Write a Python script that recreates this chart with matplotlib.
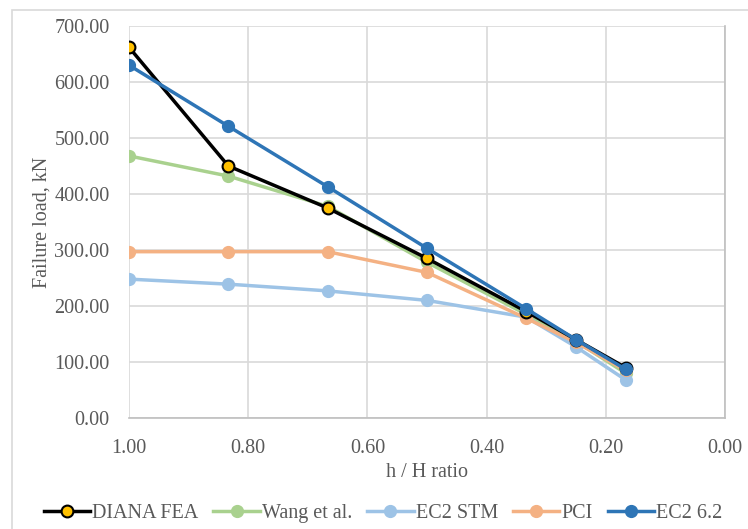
import matplotlib.pyplot as plt
from matplotlib.patches import Rectangle

# h/H ratios (x axis runs from 1.00 down to 0.00)
ratio = [1.0, 0.8333, 0.6667, 0.5, 0.3333, 0.25, 0.1667]

diana_fea = [662, 450, 375, 285, 190, 140, 90]
wang = [468, 432, 378, 278, 185, 137, 80]
ec2_stm = [248, 239, 227, 210, 180, 127, 68]
pci = [297, 297, 297, 260, 178, 135, 85]
ec2_62 = [630, 521, 413, 303, 195, 140, 87]

plt.rcParams['font.family'] = ['Liberation Serif', 'DejaVu Serif']
text_col = '#595959'
fs = 14.5

fig = plt.figure(figsize=(7.48, 5.29), dpi=100)
ax = fig.add_axes([129 / 748, 1 - 418 / 529, 596 / 748, 392 / 529])

# light chart border
fig.patches.append(Rectangle((12 / 748, -0.1), 1.0, 1 - 10 / 529 + 0.1,
                             transform=fig.transFigure, fill=False,
                             edgecolor='#d9d9d9', linewidth=1.2))

ax.plot(ratio, wang, '-o', color='#a9d18e', lw=2.5, ms=8.5, label='Wang et al.', zorder=3)
ax.plot(ratio, ec2_stm, '-o', color='#9dc3e6', lw=2.5, ms=8.5, label='EC2 STM', zorder=3)
ax.plot(ratio, pci, '-o', color='#f4b183', lw=2.5, ms=8.5, label='PCI', zorder=3)
ax.plot(ratio, diana_fea, '-o', color='black', mfc='#ffc000', mec='black', mew=1.5,
        lw=2.5, ms=8.5, label='DIANA FEA', zorder=4)
ax.plot(ratio, ec2_62, '-o', color='#2e75b6', lw=2.5, ms=8.5, label='EC2 6.2', zorder=5)

ax.set_xlim(1.0, 0.0)
ax.set_ylim(0, 700)
ax.set_xticks([1.0, 0.8, 0.6, 0.4, 0.2, 0.0])
ax.set_yticks(range(0, 701, 100))
ax.xaxis.set_major_formatter(plt.FormatStrFormatter('%.2f'))
ax.yaxis.set_major_formatter(plt.FormatStrFormatter('%.2f'))
ax.grid(True, color='#d9d9d9', lw=1.2)
ax.set_axisbelow(True)
for s in ['top', 'left']:
    ax.spines[s].set_visible(False)
ax.spines['right'].set_color('#bfbfbf')
ax.spines['bottom'].set_color('#bfbfbf')
ax.spines['right'].set_linewidth(1.2)
ax.spines['bottom'].set_linewidth(1.2)
ax.tick_params(length=0, labelsize=fs, colors=text_col, pad=14)
ax.tick_params(axis='x', pad=15)

ax.set_xlabel('h / H ratio', fontsize=fs, color=text_col, labelpad=4)
ax.set_ylabel('Failure load, kN', fontsize=fs, color=text_col, labelpad=2)

handles, labels = ax.get_legend_handles_labels()
order = [labels.index(n) for n in ['DIANA FEA', 'Wang et al.', 'EC2 STM', 'PCI', 'EC2 6.2']]
leg = fig.legend([handles[i] for i in order], [labels[i] for i in order],
                 loc='center', bbox_to_anchor=(0.512, 1 - 513 / 529), ncol=5,
                 frameon=False, fontsize=fs, handlelength=2.3, handletextpad=0.1,
                 columnspacing=0.75)
for t in leg.get_texts():
    t.set_color(text_col)

fig.savefig('out.png', dpi=100)
